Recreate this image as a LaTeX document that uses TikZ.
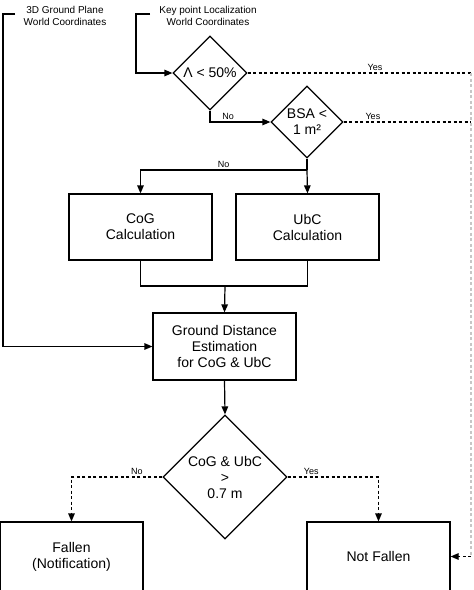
\documentclass[tikz,border=0pt]{standalone}
\usepackage{fontspec}
\setmainfont{Liberation Sans}
\usetikzlibrary{calc,positioning,shapes.geometric,arrows.meta}
\tikzset{
  box/.style={draw,line width=1.2pt,minimum width=143pt,inner sep=0pt,align=center,font=\fontsize{14}{16}\selectfont},
  test/.style={draw,diamond,aspect=1,line width=1.2pt,inner sep=0pt,align=center,font=\fontsize{14}{16}\selectfont},
  note/.style={align=center,font=\fontsize{10}{12.5}\selectfont},
  lbl/.style={font=\fontsize{9}{10}\selectfont,inner sep=2pt},
  flow/.style={line width=1.2pt,-{Triangle[length=8pt,width=6.5pt]}},
  wire/.style={line width=1.2pt},
  dotline/.style={line width=1.2pt,dash pattern=on 3pt off 2.5pt}
}
\begin{document}
\begin{tikzpicture}[x=1pt,y=-1pt]
\useasboundingbox (0,0) rectangle (474,590);
% inputs
\node[note] (ground) at (65,16) {3D Ground Plane\\World Coordinates};
\node[note] (keypt) at (208,16) {Key point Localization\\World Coordinates};
\coordinate (groundend) at (15,14);
\coordinate (keyptend) at (150,14);
% decisions and steps
\node[test,minimum size=74pt] (occl) at (210,73) {Λ < 50\%};
\node[test,minimum size=72pt] (bsa) at (307,122) {BSA <\\1 m²};
\node[box,minimum height=66pt] (cog) at (140.5,227) {CoG\\Calculation};
\node[box,minimum height=66pt] (ubc) at (307.5,227) {UbC\\Calculation};
\node[box,minimum height=67pt] (dist) at (224.5,346.5) {Ground Distance\\Estimation\\for CoG \& UbC};
\node[test,minimum size=124pt] (height) at (225,477) {CoG \& UbC\\>\\0.7 m};
\node[box,minimum height=69pt] (fallen) at (71.5,556.5) {Fallen\\(Notification)};
\node[box,minimum height=69pt] (notfallen) at (378.5,556.5) {Not Fallen};
\coordinate (split) at (307,170);
\coordinate (join) at (225,286);
\coordinate (yesline) at (471,73);
\coordinate (yesline2) at (471,122);

\draw[flow] (groundend) -- (3,14) |- (dist.west);
\draw[flow] (keyptend) -- (136,14) |- (occl.west);
\draw[flow] (occl.south) |- (bsa.west) node[lbl,pos=0.65,above] {No};
\draw[dotline] (occl.east) -- (yesline) node[lbl,pos=0.57,above] {Yes};
\draw[dotline] (bsa.east) -- (yesline2) node[lbl,pos=0.23,above] {Yes};
\draw[dotline,gray!45] (yesline) -- (yesline |- notfallen.east);
\draw[dotline,-{Triangle[length=8pt,width=6.5pt]}] (yesline |- notfallen.east) -- (notfallen.east);
\draw[wire] (bsa.south) -- (split);
\draw[flow] (split) -- (ubc.north);
\draw[flow] (split) -| (cog.north) node[lbl,pos=0.25,above] {No};
\draw[wire] (cog.south) |- (join) -| (ubc.south);
\draw[flow] (join) -- (dist.north);
\draw[flow] (dist.south) -- (height.north);
\draw[dotline,-{Triangle[length=8pt,width=6.5pt]}] (height.west) -| (fallen.north) node[lbl,pos=0.14,above] {No};
\draw[dotline,-{Triangle[length=8pt,width=6.5pt]}] (height.east) -| (notfallen.north) node[lbl,pos=0.13,above] {Yes};
\end{tikzpicture}
\end{document}
